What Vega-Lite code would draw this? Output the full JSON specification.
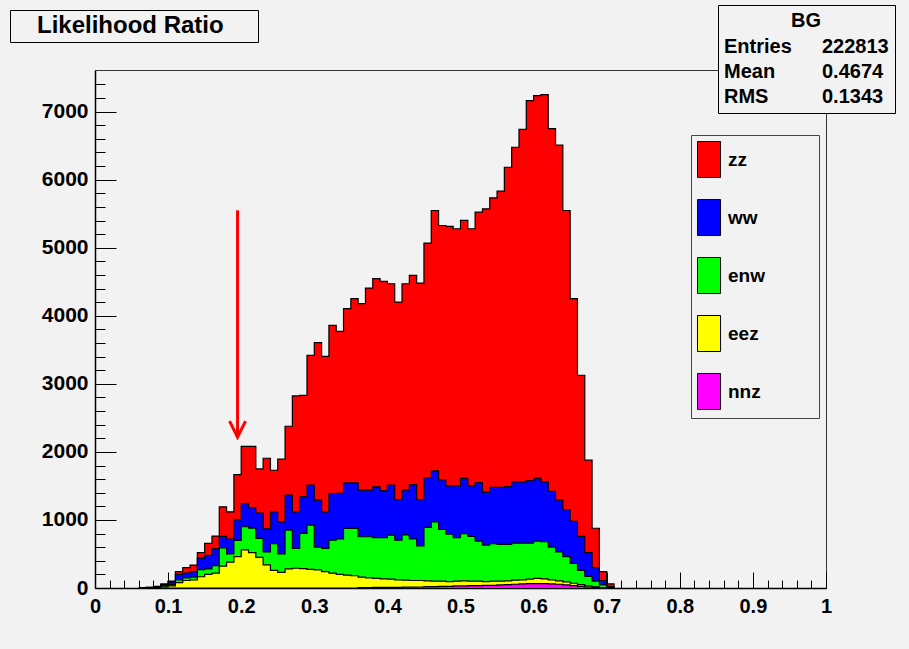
{
  "$schema": "https://vega.github.io/schema/vega-lite/v6.json",
  "width": 731,
  "height": 518,
  "autosize": {"type": "none"},
  "padding": {"left": 95, "top": 70, "right": 83, "bottom": 61},
  "background": "#f2f2f2",
  "config": {
    "view": {"stroke": "#333333", "strokeWidth": 1, "fill": "#f2f2f2"},
    "font": "Liberation Sans",
    "axis": {
      "domainColor": "#000000",
      "domainWidth": 1.5,
      "tickColor": "#000000",
      "tickWidth": 1,
      "labelColor": "#000000",
      "labelFont": "Liberation Sans",
      "labelFontWeight": "bold",
      "labelFontSize": 20,
      "labelOverlap": false,
      "labelFlush": false,
      "grid": false
    },
    "legend": {
      "labelFont": "Liberation Sans",
      "labelFontWeight": "bold",
      "labelColor": "#000000",
      "titleFont": "Liberation Sans",
      "titleFontWeight": "bold",
      "titleColor": "#000000",
      "fillColor": "#f2f2f2",
      "orient": "none"
    }
  },
  "resolve": {"axis": {"x": "independent", "y": "independent"}},
  "datasets": {
    "bins": [
      {"bin_low": 0.06, "zz": 0, "ww": 0, "enw": 0, "eez": 0, "nnz": 0},
      {"bin_low": 0.07, "zz": 2, "ww": 3, "enw": 3, "eez": 2, "nnz": 0},
      {"bin_low": 0.08, "zz": 5, "ww": 8, "enw": 6, "eez": 6, "nnz": 0},
      {"bin_low": 0.09, "zz": 10, "ww": 20, "enw": 15, "eez": 15, "nnz": 0},
      {"bin_low": 0.1, "zz": 10, "ww": 40, "enw": 20, "eez": 30, "nnz": 0},
      {"bin_low": 0.11, "zz": 40, "ww": 80, "enw": 40, "eez": 80, "nnz": 0},
      {"bin_low": 0.12, "zz": 80, "ww": 70, "enw": 40, "eez": 110, "nnz": 0},
      {"bin_low": 0.13, "zz": 97, "ww": 80, "enw": 40, "eez": 120, "nnz": 0},
      {"bin_low": 0.14, "zz": 80, "ww": 170, "enw": 105, "eez": 165, "nnz": 0},
      {"bin_low": 0.15, "zz": 176, "ww": 200, "enw": 80, "eez": 200, "nnz": 0},
      {"bin_low": 0.16, "zz": 183, "ww": 250, "enw": 110, "eez": 220, "nnz": 0},
      {"bin_low": 0.17, "zz": 433, "ww": 170, "enw": 270, "eez": 320, "nnz": 0},
      {"bin_low": 0.18, "zz": 400, "ww": 220, "enw": 120, "eez": 380, "nnz": 0},
      {"bin_low": 0.19, "zz": 665, "ww": 300, "enw": 240, "eez": 460, "nnz": 0},
      {"bin_low": 0.2, "zz": 840, "ww": 340, "enw": 340, "eez": 560, "nnz": 0},
      {"bin_low": 0.21, "zz": 900, "ww": 300, "enw": 360, "eez": 520, "nnz": 0},
      {"bin_low": 0.22, "zz": 650, "ww": 370, "enw": 280, "eez": 450, "nnz": 0},
      {"bin_low": 0.23, "zz": 1037, "ww": 340, "enw": 190, "eez": 340, "nnz": 0},
      {"bin_low": 0.24, "zz": 610, "ww": 470, "enw": 390, "eez": 260, "nnz": 0},
      {"bin_low": 0.25, "zz": 920, "ww": 473, "enw": 270, "eez": 230, "nnz": 0},
      {"bin_low": 0.26, "zz": 1012, "ww": 514, "enw": 571, "eez": 280, "nnz": 0},
      {"bin_low": 0.27, "zz": 1702, "ww": 538, "enw": 292, "eez": 290, "nnz": 0},
      {"bin_low": 0.28, "zz": 1490, "ww": 538, "enw": 517, "eez": 285, "nnz": 0},
      {"bin_low": 0.29, "zz": 1907, "ww": 587, "enw": 650, "eez": 275, "nnz": 0},
      {"bin_low": 0.3, "zz": 2315, "ww": 691, "enw": 335, "eez": 265, "nnz": 0},
      {"bin_low": 0.31, "zz": 2285, "ww": 538, "enw": 342, "eez": 240, "nnz": 0},
      {"bin_low": 0.32, "zz": 2471, "ww": 685, "enw": 484, "eez": 220, "nnz": 0},
      {"bin_low": 0.33, "zz": 2382, "ww": 670, "enw": 520, "eez": 200, "nnz": 0},
      {"bin_low": 0.34, "zz": 2559, "ww": 670, "enw": 686, "eez": 190, "nnz": 0},
      {"bin_low": 0.35, "zz": 2705, "ww": 670, "enw": 696, "eez": 180, "nnz": 0},
      {"bin_low": 0.36, "zz": 2740, "ww": 685, "enw": 593, "eez": 155, "nnz": 5},
      {"bin_low": 0.37, "zz": 2969, "ww": 685, "enw": 603, "eez": 145, "nnz": 5},
      {"bin_low": 0.38, "zz": 3058, "ww": 747, "enw": 600, "eez": 132, "nnz": 8},
      {"bin_low": 0.39, "zz": 3075, "ww": 690, "enw": 605, "eez": 127, "nnz": 8},
      {"bin_low": 0.4, "zz": 2959, "ww": 734, "enw": 648, "eez": 120, "nnz": 10},
      {"bin_low": 0.41, "zz": 2902, "ww": 596, "enw": 584, "eez": 110, "nnz": 10},
      {"bin_low": 0.42, "zz": 3033, "ww": 658, "enw": 665, "eez": 103, "nnz": 12},
      {"bin_low": 0.43, "zz": 3073, "ww": 800, "enw": 610, "eez": 98, "nnz": 12},
      {"bin_low": 0.44, "zz": 3181, "ww": 680, "enw": 510, "eez": 95, "nnz": 15},
      {"bin_low": 0.45, "zz": 3448, "ww": 730, "enw": 785, "eez": 85, "nnz": 20},
      {"bin_low": 0.46, "zz": 3827, "ww": 747, "enw": 873, "eez": 80, "nnz": 20},
      {"bin_low": 0.47, "zz": 3737, "ww": 730, "enw": 760, "eez": 75, "nnz": 25},
      {"bin_low": 0.48, "zz": 3813, "ww": 710, "enw": 695, "eez": 70, "nnz": 25},
      {"bin_low": 0.49, "zz": 3779, "ww": 760, "enw": 640, "eez": 70, "nnz": 30},
      {"bin_low": 0.5, "zz": 3791, "ww": 810, "enw": 695, "eez": 75, "nnz": 30},
      {"bin_low": 0.51, "zz": 3779, "ww": 740, "enw": 660, "eez": 65, "nnz": 35},
      {"bin_low": 0.52, "zz": 3973, "ww": 860, "enw": 590, "eez": 65, "nnz": 35},
      {"bin_low": 0.53, "zz": 4162, "ww": 780, "enw": 535, "eez": 55, "nnz": 40},
      {"bin_low": 0.54, "zz": 4253, "ww": 830, "enw": 550, "eez": 60, "nnz": 40},
      {"bin_low": 0.55, "zz": 4351, "ww": 840, "enw": 540, "eez": 55, "nnz": 45},
      {"bin_low": 0.56, "zz": 4693, "ww": 850, "enw": 535, "eez": 55, "nnz": 50},
      {"bin_low": 0.57, "zz": 4917, "ww": 900, "enw": 545, "eez": 60, "nnz": 55},
      {"bin_low": 0.58, "zz": 5180, "ww": 900, "enw": 540, "eez": 60, "nnz": 60},
      {"bin_low": 0.59, "zz": 5582, "ww": 920, "enw": 530, "eez": 65, "nnz": 65},
      {"bin_low": 0.6, "zz": 5625, "ww": 920, "enw": 550, "eez": 75, "nnz": 65},
      {"bin_low": 0.61, "zz": 5690, "ww": 880, "enw": 545, "eez": 70, "nnz": 65},
      {"bin_low": 0.62, "zz": 5330, "ww": 820, "enw": 480, "eez": 60, "nnz": 60},
      {"bin_low": 0.63, "zz": 5220, "ww": 760, "enw": 425, "eez": 50, "nnz": 55},
      {"bin_low": 0.64, "zz": 4397, "ww": 690, "enw": 370, "eez": 45, "nnz": 45},
      {"bin_low": 0.65, "zz": 3273, "ww": 620, "enw": 290, "eez": 35, "nnz": 35},
      {"bin_low": 0.66, "zz": 2366, "ww": 500, "enw": 210, "eez": 25, "nnz": 25},
      {"bin_low": 0.67, "zz": 1358, "ww": 350, "enw": 140, "eez": 15, "nnz": 15},
      {"bin_low": 0.68, "zz": 578, "ww": 200, "enw": 82, "eez": 10, "nnz": 8},
      {"bin_low": 0.69, "zz": 130, "ww": 65, "enw": 39, "eez": 3, "nnz": 3},
      {"bin_low": 0.7, "zz": 40, "ww": 10, "enw": 10, "eez": 0, "nnz": 0},
      {"bin_low": 0.71, "zz": 0, "ww": 0, "enw": 0, "eez": 0, "nnz": 0}
    ],
    "stack_order": [
      {"sample": "nnz", "rank": 1},
      {"sample": "eez", "rank": 2},
      {"sample": "enw", "rank": 3},
      {"sample": "ww", "rank": 4},
      {"sample": "zz", "rank": 5}
    ],
    "stats": [
      {"stat": "Entries"},
      {"stat": "222813"},
      {"stat": "Mean"},
      {"stat": "0.4674"},
      {"stat": "RMS"},
      {"stat": "0.1343"}
    ],
    "heading": [{"name": "Likelihood Ratio"}],
    "marker": [{"x": 0.195, "from": 5550, "to": 2216}]
  },
  "layer": [
    {
      "data": {"name": "bins"},
      "transform": [
        {"fold": ["zz", "ww", "enw", "eez", "nnz"], "as": ["sample", "count"]},
        {"lookup": "sample", "from": {"data": {"name": "stack_order"}, "key": "sample", "fields": ["rank"]}}
      ],
      "mark": {"type": "area", "interpolate": "step-after", "strokeWidth": 0},
      "encoding": {
        "x": {
          "field": "bin_low",
          "type": "quantitative",
          "scale": {"domain": [0, 1], "nice": false},
          "axis": {
            "title": null,
            "orient": "bottom",
            "values": [0, 0.1, 0.2, 0.3, 0.4, 0.5, 0.6, 0.7, 0.8, 0.9, 1],
            "format": "~g",
            "labelOverlap": false,
            "labelFlush": false,
            "labelFontSize": 20,
            "tickSize": -16,
            "labelPadding": 24
          }
        },
        "y": {
          "field": "count",
          "type": "quantitative",
          "stack": "zero",
          "scale": {"domain": [0, 7612], "nice": false},
          "axis": {
            "title": null,
            "orient": "left",
            "values": [0, 1000, 2000, 3000, 4000, 5000, 6000, 7000],
            "format": "d",
            "labelOverlap": false,
            "labelFlush": false,
            "labelFontSize": 21,
            "tickSize": -21,
            "labelPadding": 28
          }
        },
        "color": {
          "field": "sample",
          "type": "nominal",
          "scale": {"domain": ["zz", "ww", "enw", "eez", "nnz"], "range": ["#ff0000", "#0000ff", "#00ff00", "#ffff00", "#ff00ff"]},
          "legend": {
            "title": null,
            "orient": "none",
            "legendX": 596,
            "legendY": 65,
            "padding": 6,
            "symbolType": "M-1,-1H0.28V1H-1ZM5.28,0L5.28,0",
            "symbolSize": 1296,
            "symbolStrokeColor": "#000000",
            "symbolStrokeWidth": 1,
            "symbolOpacity": 1,
            "rowPadding": 17,
            "labelOffset": -6,
            "labelFontSize": 19,
            "strokeColor": "#444444"
          }
        },
        "order": {"field": "rank", "type": "quantitative"}
      }
    },
    {
      "data": {"name": "bins"},
      "transform": [
        {"fold": ["zz", "ww", "enw", "eez", "nnz"], "as": ["sample", "count"]},
        {"lookup": "sample", "from": {"data": {"name": "stack_order"}, "key": "sample", "fields": ["rank"]}},
        {"window": [{"op": "sum", "field": "count", "as": "cumulative"}], "groupby": ["bin_low"], "sort": [{"field": "rank", "order": "ascending"}], "frame": [null, 0]}
      ],
      "mark": {"type": "line", "interpolate": "step-after", "color": "#000000", "strokeWidth": 1.2},
      "encoding": {
        "x": {
          "field": "bin_low",
          "type": "quantitative",
          "axis": {
            "title": null,
            "orient": "bottom",
            "values": [0.02, 0.04, 0.06, 0.08, 0.12, 0.14, 0.16, 0.18, 0.22, 0.24, 0.26, 0.28, 0.32, 0.34, 0.36, 0.38, 0.42, 0.44, 0.46, 0.48, 0.52, 0.54, 0.56, 0.58, 0.62, 0.64, 0.66, 0.68, 0.72, 0.74, 0.76, 0.78, 0.82, 0.84, 0.86, 0.88, 0.92, 0.94, 0.96, 0.98],
            "labels": false,
            "domain": false,
            "tickSize": -8
          }
        },
        "y": {
          "field": "cumulative",
          "type": "quantitative",
          "axis": {
            "title": null,
            "orient": "left",
            "values": [200, 400, 600, 800, 1200, 1400, 1600, 1800, 2200, 2400, 2600, 2800, 3200, 3400, 3600, 3800, 4200, 4400, 4600, 4800, 5200, 5400, 5600, 5800, 6200, 6400, 6600, 6800, 7200, 7400],
            "labels": false,
            "domain": false,
            "tickSize": -10
          }
        },
        "detail": {"field": "sample"}
      }
    },
    {
      "data": {"name": "marker"},
      "mark": {"type": "rule", "color": "#ff0000", "strokeWidth": 3},
      "encoding": {
        "x": {"field": "x", "type": "quantitative", "axis": null},
        "y": {"field": "from", "type": "quantitative", "axis": null},
        "y2": {"field": "to"}
      }
    },
    {
      "data": {"name": "marker"},
      "mark": {"type": "point", "shape": "M-1,-2L0,0L1,-2", "size": 256, "filled": false, "color": "#ff0000", "strokeWidth": 3, "opacity": 1},
      "encoding": {
        "x": {"field": "x", "type": "quantitative", "axis": null},
        "y": {"field": "to", "type": "quantitative", "axis": null}
      }
    },
    {
      "data": {"name": "stats"},
      "mark": {"type": "point"},
      "encoding": {
        "opacity": {"value": 0},
        "shape": {
          "field": "stat",
          "type": "nominal",
          "sort": null,
          "legend": {
            "title": "BG",
            "titleAnchor": "middle",
            "titleFontSize": 20,
            "titlePadding": 6,
            "direction": "horizontal",
            "columns": 2,
            "columnPadding": 30,
            "rowPadding": 5,
            "symbolType": "circle",
            "symbolSize": 4,
            "symbolOpacity": 0,
            "symbolStrokeWidth": 0,
            "labelOffset": -20,
            "labelFontSize": 20,
            "padding": 6,
            "orient": "none",
            "legendX": 623,
            "legendY": -65,
            "strokeColor": "#000000"
          }
        }
      }
    },
    {
      "data": {"name": "heading"},
      "mark": {"type": "point"},
      "encoding": {
        "opacity": {"value": 0},
        "strokeDash": {
          "field": "name",
          "type": "nominal",
          "legend": {
            "title": null,
            "symbolType": "M-1,-1L19,1",
            "symbolSize": 576,
            "symbolOpacity": 0,
            "symbolStrokeWidth": 0,
            "labelOffset": -1,
            "labelFontSize": 24,
            "labelLimit": 400,
            "padding": 4,
            "orient": "none",
            "legendX": -85,
            "legendY": -60,
            "strokeColor": "#000000"
          }
        }
      }
    }
  ]
}
